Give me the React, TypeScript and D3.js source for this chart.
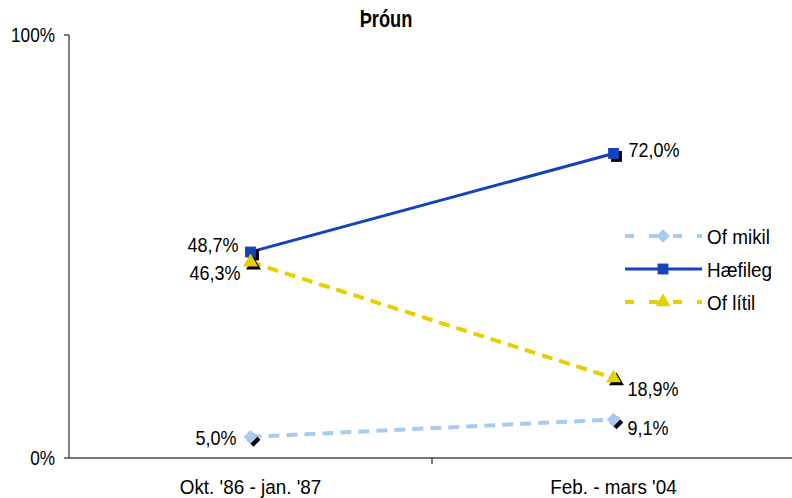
import React from "react";
import * as d3 from "d3";

const categories = ["Okt. '86 - jan. '87", "Feb. - mars '04"];
const ofMikil = [5.0, 9.1];
const haefileg = [48.7, 72.0];
const ofLitil = [46.3, 18.9];
const yTicks = [0, 100];
const title = "Þróun";

const FONT = "'Liberation Sans', Arial, sans-serif";

const W = 792, H = 498;
const left = 69, right = 795, top = 35, bottom = 458;

const series = [
  { name: "Of mikil", values: ofMikil, color: "#A9CBEE", dash: "11,7", marker: "diamond", width: 4 },
  { name: "Hæfileg", values: haefileg, color: "#1243BC", dash: null, marker: "square", width: 3 },
  { name: "Of lítil", values: ofLitil, color: "#E6D000", dash: "11,7", marker: "triangle", width: 4 },
];

function markerPath(type: string, size: number) {
  const sym = type === "diamond" ? d3.symbolDiamond2 : type === "square" ? d3.symbolSquare2 : d3.symbolTriangle2;
  return d3.symbol(sym, size)() as string;
}

function T(props: { x: number; y: number; size: number; anchor?: string; sx?: number; bold?: boolean; children: any }) {
  const { x, y, size, anchor = "start", sx = 0.88, bold = false, children } = props;
  return (
    <g transform={`translate(${x},${y}) scale(${sx},1)`}>
      <text x={0} y={0} textAnchor={anchor as any} fontFamily={FONT} fontSize={size} fontWeight={bold ? "bold" : "normal"}>
        {children}
      </text>
    </g>
  );
}

export default function App() {
  const x = d3.scalePoint<string>().domain(categories).range([left, right]).padding(0.5);
  const y = d3.scaleLinear().domain([0, 100]).range([bottom, top]);
  const line = d3.line<number>().x((_, i) => x(categories[i]) as number).y((d) => y(d));
  const fmt = (v: number) => v.toFixed(1).replace(".", ",") + "%";

  const markerSize: Record<string, number> = { diamond: 120, square: 150, triangle: 160 };

  const labelPos: Record<string, [number, number, string][]> = {
    "Of mikil": [[-14, 8, "end"], [14, 15, "start"]],
    "Hæfileg": [[-12, 0, "end"], [15, 4, "start"]],
    "Of lítil": [[-10, 18, "end"], [14, 18, "start"]],
  };

  const band = (right - left) / categories.length;

  return (
    <svg width={W} height={H} style={{ position: "absolute", left: 0, top: 0, background: "#fff" }}>
      <T x={386} y={27} size={24} anchor="middle" sx={0.76} bold>{title}</T>
      {/* axes */}
      <line x1={left} x2={left} y1={top} y2={bottom} stroke="#000" strokeWidth={1} />
      <line x1={left} x2={W} y1={bottom} y2={bottom} stroke="#777" strokeWidth={2} />
      {yTicks.map((t) => (
        <g key={t}>
          <line x1={left - 5} x2={left} y1={y(t)} y2={y(t)} stroke="#000" />
          <T x={left - 14} y={y(t) + 7} size={20} anchor="end" sx={0.86}>{t}%</T>
        </g>
      ))}
      {[1].map((i) => (
        <line key={i} x1={left + band * i} x2={left + band * i} y1={bottom} y2={bottom + 6} stroke="#000" />
      ))}
      {categories.map((c) => (
        <T key={c} x={x(c) as number} y={bottom + 36} size={21} anchor="middle" sx={0.9}>{c}</T>
      ))}
      {/* lines */}
      {series.map((s) => (
        <path key={s.name} d={line(s.values) as string} fill="none" stroke={s.color} strokeWidth={s.width}
          strokeDasharray={s.dash ?? undefined} />
      ))}
      {/* markers */}
      {series.map((s) =>
        s.values.map((v, i) => {
          const cx = x(categories[i]) as number;
          const cy = y(v);
          const p = markerPath(s.marker, markerSize[s.marker]);
          return (
            <g key={s.name + i}>
              <path d={p} transform={`translate(${cx + 3},${cy + 3})`} fill="#000" />
              <path d={p} transform={`translate(${cx},${cy})`} fill={s.color} />
            </g>
          );
        })
      )}
      {/* labels */}
      {series.map((s) =>
        s.values.map((v, i) => {
          const cx = x(categories[i]) as number;
          const cy = y(v);
          const [dx, dy, anchor] = labelPos[s.name][i];
          return (
            <T key={s.name + "l" + i} x={cx + dx} y={cy + dy} size={20} anchor={anchor} sx={0.9}>{fmt(v)}</T>
          );
        })
      )}
      {/* legend */}
      {series.map((s, i) => {
        const ly = 236 + i * 33;
        const p = markerPath(s.marker, markerSize[s.marker]);
        return (
          <g key={s.name + "lg"}>
            <line x1={625} x2={702} y1={ly} y2={ly} stroke={s.color} strokeWidth={s.width}
              strokeDasharray={s.dash ? "9,15" : undefined} />
            <path d={p} transform={`translate(${663},${ly})`} fill={s.color} />
            <T x={707} y={ly + 8} size={21} sx={0.9}>{s.name}</T>
          </g>
        );
      })}
    </svg>
  );
}
